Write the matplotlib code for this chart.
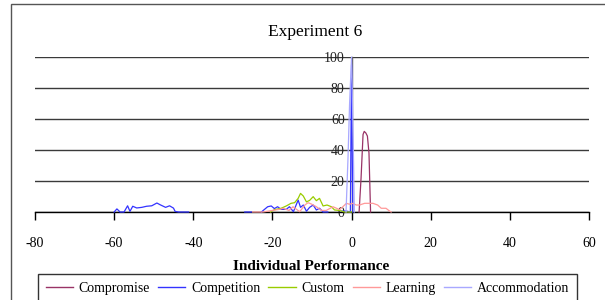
import numpy as np
import matplotlib
matplotlib.use("Agg")
import matplotlib.pyplot as plt
from matplotlib.patches import Rectangle

nan = np.nan

title = "Experiment 6"
xlabel = "Individual Performance"
series_names = ["Compromise", "Competition", "Custom", "Learning", "Accommodation"]
colors = ["#993366", "#3333FF", "#99CC00", "#FF9999", "#A8A8FF"]

compromise_x = [1.9, 2.4, 2.9, 3.2, 3.6, 4.0, 4.4, 4.8]
compromise_y = [0, 22, 50, 52, 51, 49, 38, 0]

competition_x = [-60, -59.3, -58.5, -57.5, -56.6, -56, -55.3, -54.3, -53, -51.8, -50.5,
                 -49.2, -48.4, -47, -46, -45, -44.6, -43.7, -41.2, -40,
                 -27, -25.3, -24,
                 -22.8, -21.2, -20.3, -19.5, -18.7, -17.8, -16.5, -15.7, -14.7, -13.5,
                 -12.9, -12.2, -11.4, -10.6, -9.7, -8.9, -8.1, -7.2, -6.0, -5,
                 -2.6, -1.3, -0.3, 0, 0.3]
competition_y = [0, 2, 0, 0, 4, 0.4, 3.7, 2.6, 3, 3.7, 4,
                 5.8, 4.7, 3, 4, 2.5, 0.4, 0, 0, nan,
                 0, 0, nan,
                 0, 3.4, 3.9, 2.2, 3.4, 1.7, 1.7, 3.4, 0.2, 7.7,
                 3, 4.5, 0.5, 3, 4.5, 1.3, 2.4, 0, 0, nan,
                 0.6, 0.6, 0, 95, 0]

custom_x = [-20.5, -19.5, -17.8, -16.5, -15.3, -14.4, -13.5, -12.9, -12.2, -11.4, -10.6,
            -9.7, -8.9, -8.1, -7.2, -6.2, -5.1, -4.3, -3, -1.8, 0]
custom_y = [0, 1.5, 2.4, 3.9, 5.6, 6, 8.8, 12, 10.3, 6.5, 7.5,
            9.9, 7.3, 8.8, 3.9, 4.5, 3.4, 1.3, 1, 0, 0]

learning_x = [-25, -22.4, -20, -18.2, -17.3, -15.8, -14.8, -13.1, -11.8, -11, -10.2,
              -8.9, -7.6, -6.4, -4.7, -3, -1.3, -0.5, 0.3, 1.2, 2, 3.3, 5.4, 6.6,
              7.5, 8.7, 9.6, 10]
learning_y = [0, 0, 1, 1.7, 2.4, 1, 3.4, 0.2, 4.5, 6, 5.2,
              3.4, 1, 1, 3.4, 1.5, 5.6, 5, 5.6, 4.5, 4.5, 5.6, 5.6, 4.5,
              2.4, 2.4, 0.6, 0]

accommodation_x = [-1.4, -0.9, -0.5, 0.0, 0.4, 0.7]
accommodation_y = [0, 35, 70, 100, 47, 0]

xticks = [-80, -60, -40, -20, 0, 20, 40, 60]
yticks = [0, 20, 40, 60, 80, 100]

plt.rcParams['font.family'] = ['Liberation Serif', 'DejaVu Serif']
plt.rcParams['axes.unicode_minus'] = False

W, H = 605, 300
fig = plt.figure(figsize=(W / 100, H / 100), dpi=100)
fig.patch.set_facecolor("white")

# outer chart border
fig.patches.append(Rectangle((11 / W, -0.2), 1.2, 1 - 4 / H + 0.2, transform=fig.transFigure,
                             fill=False, edgecolor="#555555", linewidth=1.0))

ax = fig.add_axes([35 / W, 1 - 212 / H, (589 - 35) / W, (212 - 57) / H])
ax.set_facecolor("none")

data = [(compromise_x, compromise_y), (competition_x, competition_y),
        (custom_x, custom_y), (learning_x, learning_y),
        (accommodation_x, accommodation_y)]
for (xs, ys), name, c in zip(data, series_names, colors):
    ax.plot(xs, ys, color=c, lw=0.9, label=name, zorder=3, clip_on=False)

ax.set_xlim(-80, 60)
ax.set_ylim(0, 100)
ax.set_xticks(xticks)
ax.set_yticks(yticks)
ax.yaxis.grid(True, color="#3a3a3a", lw=1.0)
ax.set_axisbelow(True)

for s in ["top", "right"]:
    ax.spines[s].set_visible(False)
ax.spines["left"].set_position(("data", 0))
ax.spines["left"].set_color("#555555")
ax.spines["left"].set_linewidth(1.0)
ax.spines["left"].set_zorder(2.5)
ax.spines["bottom"].set_color("black")
ax.spines["bottom"].set_linewidth(1.0)

ax.tick_params(axis="y", length=0, pad=5, labelsize=10, labelcolor="#222222")
ax.tick_params(axis="x", length=6, width=1, direction="out", pad=12, labelsize=10)
for lbl in ax.get_yticklabels():
    lbl.set_zorder(4)

fig.text(315 / W, 1 - 32 / H, title, ha="center", va="center", fontsize=12.5)
fig.text(311 / W, 1 - 267 / H, xlabel, ha="center", va="center", fontsize=11,
         fontweight="bold")

leg = fig.legend(loc="upper center", bbox_to_anchor=(307.5 / W, 1 - 274 / H), ncol=5,
                 frameon=True, fancybox=False, edgecolor="black", fontsize=10,
                 handlelength=1.95, handletextpad=0.43, columnspacing=0.58,
                 borderpad=0.55, borderaxespad=0)
leg.get_frame().set_linewidth(1.0)
for h in leg.get_lines():
    h.set_linewidth(1.0)

fig.savefig("out.png", dpi=100)
